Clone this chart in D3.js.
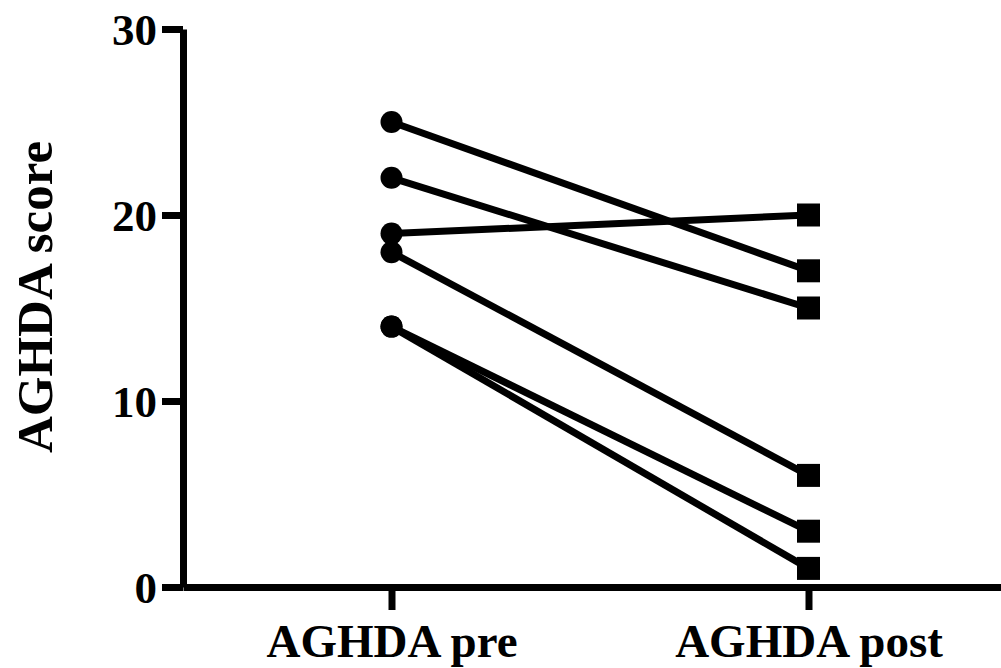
<!DOCTYPE html>
<html>
    <head>
        <style>
body {
    margin: 0;
    background: #fff;
}
#chart text {
    font-family: "Liberation Serif", "Times New Roman", serif;
    font-weight: bold;
    fill: #000;
}
        </style>
    </head>
    <body>
        <div id="chart"></div>
        <script src="https://d3js.org/d3.v7.min.js"></script>
        <script>

// before / after scores, one entry per subject
const groups = ["AGHDA pre", "AGHDA post"]
const pre = [25, 22, 19, 18, 14, 14]
const post = [17, 15, 20, 6, 3, 1]
const yTicks = [0, 10, 20, 30]

const W = 1001, H = 668
const margin = {left: 183, bottom: 587, top: 29}

const x = d3.scalePoint()
    .domain(groups)
    .range([margin.left, margin.left + 2 * 417])
    .padding(0.5)
const y = d3.scaleLinear()
    .domain([0, 30])
    .range([margin.bottom, margin.top])

const svg = d3.select("#chart").append("svg")
    .attr("width", W)
    .attr("height", H)

// y axis
const yAxis = svg.append("g")
    .attr("transform", "translate(" + margin.left + ",0)")
    .call(d3.axisLeft(y).tickValues(yTicks).tickSize(21).tickSizeOuter(0).tickPadding(5))
yAxis.attr("font-family", null)
yAxis.selectAll("path, line").attr("stroke", "#000").attr("stroke-width", 7)
yAxis.selectAll("text")
    .style("font-size", "45px")
    .attr("dy", "0.34em")

// x axis
const xAxis = svg.append("g")
    .attr("transform", "translate(0," + margin.bottom + ")")
    .call(d3.axisBottom(x).tickSize(23).tickSizeOuter(0).tickPadding(14))
xAxis.attr("font-family", null)
xAxis.selectAll("path, line").attr("stroke", "#000").attr("stroke-width", 7)
xAxis.selectAll("text")
    .style("font-size", "47px")
    .attr("dy", "0.71em")

// y label
svg.append("text")
    .attr("transform", "translate(52,297) rotate(-90)")
    .attr("text-anchor", "middle")
    .style("font-size", "51px")
    .text("AGHDA score")

const pairs = pre.map((v, i) => [v, post[i]])

// connecting lines
svg.selectAll(".pair")
    .data(pairs)
    .enter()
    .append("line")
    .attr("class", "pair")
    .attr("x1", x(groups[0]))
    .attr("y1", d => y(d[0]))
    .attr("x2", x(groups[1]))
    .attr("y2", d => y(d[1]))
    .attr("stroke", "#000")
    .attr("stroke-width", 7)

// pre markers: circles
svg.selectAll(".pre")
    .data(pre)
    .enter()
    .append("circle")
    .attr("class", "pre")
    .attr("cx", x(groups[0]))
    .attr("cy", d => y(d))
    .attr("r", 11)
    .attr("fill", "#000")

// post markers: squares
const s = 23
svg.selectAll(".post")
    .data(post)
    .enter()
    .append("rect")
    .attr("class", "post")
    .attr("x", x(groups[1]) - s / 2)
    .attr("y", d => y(d) - s / 2)
    .attr("width", s)
    .attr("height", s)
    .attr("fill", "#000")
        </script>
    </body>
</html>
